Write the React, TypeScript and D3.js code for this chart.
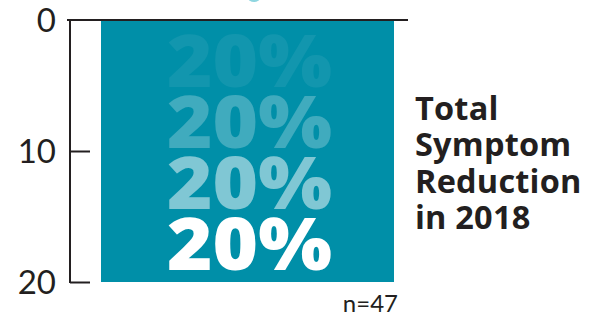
import React, { useEffect, useRef } from 'react'
import * as d3 from 'd3'

const categories = ['Total Symptom Reduction']
const values = [20]
const yTicks = [0, 10, 20]
const stackLabels = ['20%', '20%', '20%', '20%']
const stackOpacity = [0.07, 0.25, 0.5, 1]
const titleLines = ['Total', 'Symptom', 'Reduction', 'in 2018']
const sampleNote = 'n=47'

const W = 600
const H = 316

const App = () => {
  const ref = useRef<SVGSVGElement>(null)

  useEffect(() => {
    const svg = d3.select(ref.current)
    svg.selectAll('*').remove()

    const y = d3.scaleLinear().domain([0, 20]).range([20, 282])
    const x = d3.scaleBand().domain(categories).range([101, 394]).padding(0)

    // stray mark cropped at top
    svg.append('ellipse').attr('cx', 254).attr('cy', -2).attr('rx', 6).attr('ry', 4).attr('fill', '#8fd6e0')

    svg.selectAll('rect.bar')
      .data(values)
      .enter()
      .append('rect')
      .attr('class', 'bar')
      .attr('x', (_, i) => x(categories[i]) || 0)
      .attr('y', y(0))
      .attr('width', x.bandwidth())
      .attr('height', d => y(d) - y(0))
      .attr('fill', '#008fa8')

    // top baseline
    svg.append('line').attr('x1', 67).attr('x2', 408).attr('y1', y(0)).attr('y2', y(0))
      .attr('stroke', '#231f20').attr('stroke-width', 2.2)

    const axis = svg.append('g').attr('transform', 'translate(70,0)')
    axis.call(d3.axisRight(y).tickValues(yTicks).tickSize(20).tickPadding(0).tickFormat(() => ''))
    axis.select('.domain').remove()
    axis.selectAll('.tick line').attr('stroke', '#231f20').attr('stroke-width', 2)
      .filter((d: any) => d === 0).remove()
    axis.append('line').attr('x1', 0).attr('x2', 0).attr('y1', y(0)).attr('y2', y(20) + 1)
      .attr('stroke', '#231f20').attr('stroke-width', 2)

    svg.selectAll('text.ytick')
      .data(yTicks)
      .enter()
      .append('text')
      .attr('class', 'ytick')
      .attr('x', 56)
      .attr('y', d => y(d) + 12)
      .attr('text-anchor', 'end')
      .attr('font-family', 'Lato, sans-serif')
      .attr('font-weight', 400)
      .attr('font-size', 33)
      .attr('fill', '#231f20')
      .text(d => d)

    const bx = (x(categories[0]) || 0) + x.bandwidth() / 2
    svg.selectAll('text.stack')
      .data(stackLabels)
      .enter()
      .append('text')
      .attr('class', 'stack')
      .attr('x', bx + 2)
      .attr('y', (_, i) => 87 + i * 61)
      .attr('text-anchor', 'middle')
      .attr('font-family', "'Open Sans', sans-serif")
      .attr('font-weight', 800)
      .attr('font-size', 73)
      .attr('textLength', 165)
      .attr('lengthAdjust', 'spacingAndGlyphs')
      .attr('fill', '#ffffff')
      .attr('fill-opacity', (_, i) => stackOpacity[i])
      .text(d => d)

    svg.selectAll('text.title')
      .data(titleLines)
      .enter()
      .append('text')
      .attr('class', 'title')
      .attr('x', 415)
      .attr('y', (_, i) => 120 + i * 36.3)
      .attr('font-family', "'Open Sans', sans-serif")
      .attr('font-weight', 700)
      .attr('font-size', 32.5)
      .attr('letter-spacing', 0.2)
      .attr('fill', '#231f20')
      .text(d => d)

    svg.append('text')
      .attr('x', 398)
      .attr('y', 312)
      .attr('text-anchor', 'end')
      .attr('font-family', 'Lato, sans-serif')
      .attr('font-size', 24)
      .attr('fill', '#231f20')
      .text(sampleNote)
  }, [])

  return (
    <svg ref={ref} width={W} height={H} style={{ position: 'absolute', left: 0, top: 0, background: '#fff' }} />
  )
}

export default App
